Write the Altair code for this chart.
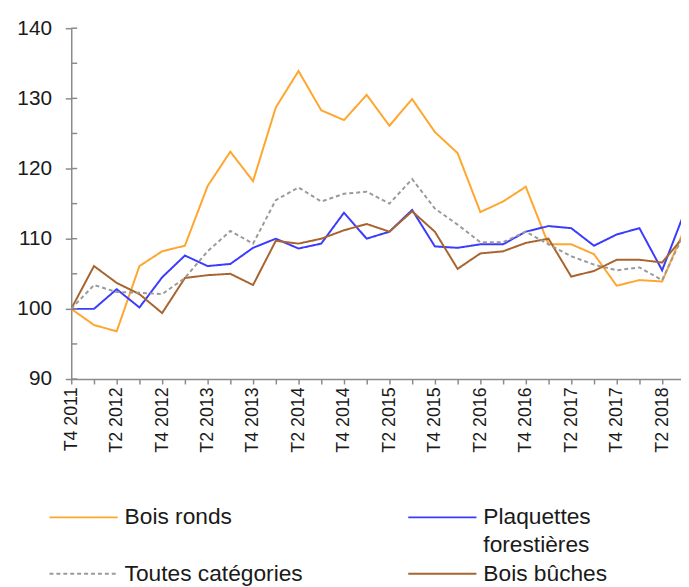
import altair as alt
import pandas as pd

quarters = ["T4 2011", "T1 2012", "T2 2012", "T3 2012", "T4 2012", "T1 2013", "T2 2013",
            "T3 2013", "T4 2013", "T1 2014", "T2 2014", "T3 2014", "T4 2014", "T1 2015",
            "T2 2015", "T3 2015", "T4 2015", "T1 2016", "T2 2016", "T3 2016", "T4 2016",
            "T1 2017", "T2 2017", "T3 2017", "T4 2017", "T1 2018", "T2 2018", "T3 2018"]

bois_ronds = [100, 97.7, 96.8, 106.1, 108.2, 109.0, 117.5, 122.4, 118.2, 128.7, 133.9, 128.3,
              126.9, 130.5, 126.1, 129.9, 125.2, 122.2, 113.8, 115.3, 117.4, 109.2, 109.2,
              107.8, 103.3, 104.1, 103.9, 111.5]
plaquettes = [100, 100, 102.8, 100.2, 104.5, 107.6, 106.1, 106.4, 108.7, 110.0, 108.6, 109.3,
              113.7, 110.0, 111.0, 114.1, 108.9, 108.7, 109.2, 109.2, 111.0, 111.8, 111.5,
              109.0, 110.6, 111.5, 105.5, 113.9]
toutes = [100, 103.4, 102.4, 102.3, 102.1, 104.4, 108.2, 111.1, 109.3, 115.5, 117.3, 115.3,
          116.4, 116.7, 115.0, 118.5, 114.3, 112.0, 109.5, 109.5, 111.0, 109.2, 107.5, 106.3,
          105.5, 105.9, 104.1, 111.0]
bois_buches = [100, 106.1, 103.7, 102.1, 99.4, 104.4, 104.8, 105.0, 103.4, 109.7, 109.3, 110.0,
               111.2, 112.1, 111.0, 113.9, 111.0, 105.7, 107.9, 108.2, 109.4, 110.0, 104.6,
               105.4, 107.0, 107.0, 106.6, 110.5]

series_names = ["Bois ronds", "Plaquettes forestières", "Bois bûches", "Toutes catégories"]
series_values = [bois_ronds, plaquettes, bois_buches, toutes]
series_colors = ["#FFA62E", "#3B3BFF", "#A8642E", "#9A9A9A"]
series_dash = [[1, 0], [1, 0], [1, 0], [4, 3]]

y_ticks_major = [90, 100, 110, 120, 130, 140]
y_ticks_minor = [90, 95, 100, 105, 110, 115, 120, 125, 130, 135, 140]

rows = []
for name, vals in zip(series_names, series_values):
    for i, v in enumerate(vals):
        rows.append({"idx": i, "quarter": quarters[i], "series": name, "value": v})
df = pd.DataFrame(rows)

FONT = "Liberation Sans"
AXIS_COLOR = "#8a8a8a"
TEXT_COLOR = "#1a1a1a"

label_array = "[" + ",".join("'%s'" % q for q in quarters) + "]"

x_scale = alt.Scale(domain=[0, 26.83], nice=False, zero=False)
y_scale = alt.Scale(domain=[90, 140], nice=False, zero=False)

lines = alt.Chart(df).mark_line(strokeWidth=2, clip=True).encode(
    x=alt.X("idx:Q", scale=x_scale,
            axis=alt.Axis(values=list(range(0, 27)), title=None, grid=False,
                          labelExpr="datum.value % 2 == 0 ? " + label_array + "[datum.value] : ''",
                          labelAngle=270, labelFont=FONT, labelFontSize=18,
                          labelColor=TEXT_COLOR, labelPadding=3, tickSize=5,
                          tickColor=AXIS_COLOR, domainColor=AXIS_COLOR, domainWidth=1.5,
                          tickWidth=1.5, labelOverlap=False, labelFlush=False)),
    y=alt.Y("value:Q", scale=y_scale,
            axis=alt.Axis(values=y_ticks_major, title=None, grid=False, tickSize=6,
                          labelPadding=14, labelFont=FONT, labelFontSize=21,
                          labelColor=TEXT_COLOR, tickColor=AXIS_COLOR,
                          domainColor=AXIS_COLOR, domainWidth=1.5, tickWidth=1.5)),
    color=alt.Color("series:N", scale=alt.Scale(domain=series_names, range=series_colors),
                    legend=None),
    strokeDash=alt.StrokeDash("series:N", scale=alt.Scale(domain=series_names, range=series_dash),
                              legend=None),
    detail="series:N",
)

inner_ticks = alt.Chart(pd.DataFrame({"v": y_ticks_minor})).mark_rule(
    color=AXIS_COLOR, strokeWidth=1.5).encode(
    y=alt.Y("v:Q", scale=y_scale),
    x=alt.value(0), x2=alt.value(6),
)

# Legend (manual, two columns)
def legend_item(label, color, dash, x0, y0, extra_line=None):
    sym = alt.Chart(pd.DataFrame({"label": [label]})).mark_rule(
        color=color, strokeWidth=2, strokeDash=dash).encode(
        x=alt.value(x0), x2=alt.value(x0 + 69), y=alt.value(y0))
    txt = alt.Chart(pd.DataFrame({"label": [label if extra_line is None else label.split(" ")[0]]})).mark_text(
        align="left", baseline="middle", font=FONT, fontSize=23, color=TEXT_COLOR).encode(
        text="label:N", x=alt.value(x0 + 76), y=alt.value(y0))
    layers = [sym, txt]
    if extra_line is not None:
        txt2 = alt.Chart(pd.DataFrame({"label": [extra_line]})).mark_text(
            align="left", baseline="middle", font=FONT, fontSize=23, color=TEXT_COLOR).encode(
            text="label:N", x=alt.value(x0 + 76), y=alt.value(y0 + 28))
        layers.append(txt2)
    return layers

legend_layers = []
legend_layers += legend_item("Bois ronds", series_colors[0], [1, 0], -22, 495)
legend_layers += legend_item("Plaquettes forestières", series_colors[1], [1, 0], 341, 495,
                             extra_line="forestières")
legend_layers += legend_item("Toutes catégories", series_colors[3], [4, 3], -22, 552)
legend_layers += legend_item("Bois bûches", series_colors[2], [1, 0], 341, 552)

chart = alt.layer(lines, inner_ticks, *legend_layers).properties(
    width=617, height=355,
    autosize=alt.AutoSizeParams(type="none"),
    padding={"left": 64, "top": 17, "right": 0, "bottom": 207},
).configure_view(stroke=None).resolve_scale(x="shared", y="shared")

chart.save("out.html", embed_options={"renderer": "svg", "actions": False})
